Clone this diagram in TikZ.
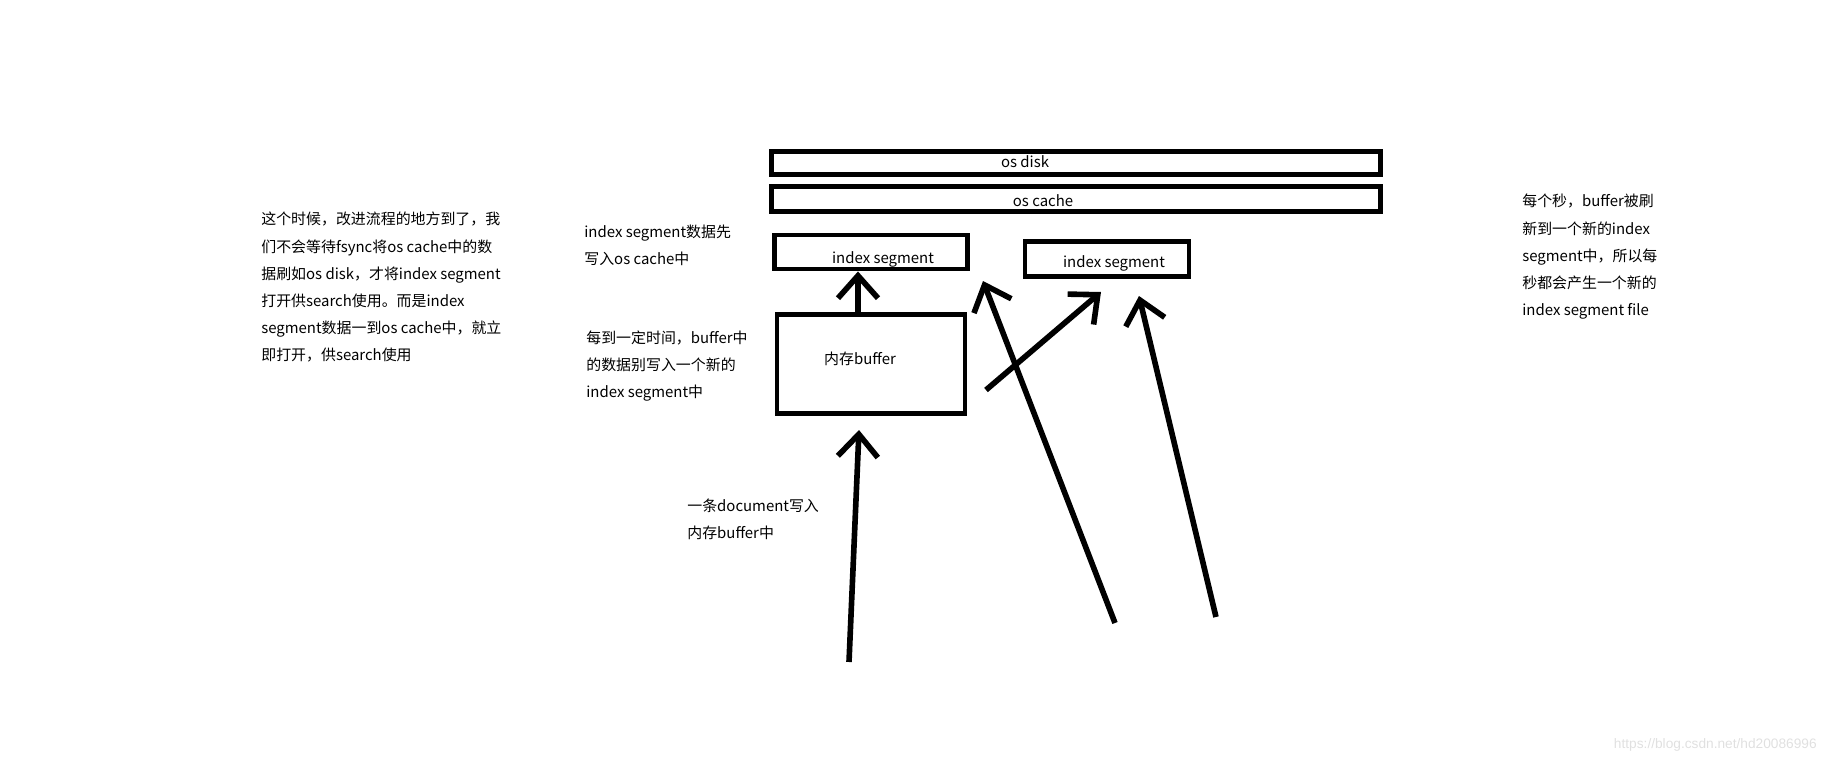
\documentclass[tikz,border=0pt]{standalone}
\usepackage{fontspec}
\setmainfont{Noto Sans CJK SC}
\newfontfamily\urlfont{Liberation Sans}
\usetikzlibrary{arrows.meta}
\definecolor{wmark}{RGB}{224,224,224}

\begin{document}
\begin{tikzpicture}[x=0.02cm, y=-0.02cm,
  box/.style={rectangle, draw, line width=2.8pt, inner sep=0pt},
  lbl/.style={inner sep=0pt, font=\fontsize{8.5}{15.4}\selectfont},
  note/.style={lbl, align=left, anchor=north west},
  arrow/.style={-{Straight Barb[length=0.45cm, width=0.8cm]}, line width=3.2pt}
]
  \useasboundingbox (0,0) rectangle (1827,764);

  \node[box, minimum width=12.18cm, minimum height=0.46cm] (disk) at (1076,163) {};
  \node[box, minimum width=12.2cm, minimum height=0.5cm] (cache) at (1076,199) {};
  \node[box, minimum width=3.86cm, minimum height=0.68cm] (idx1) at (871,252) {};
  \node[box, minimum width=3.28cm, minimum height=0.7cm] (idx2) at (1107,259) {};
  \node[box, minimum width=3.76cm, minimum height=1.98cm] (buf) at (871,364) {};

  \node[lbl] (disklbl) at (1025,162) {os disk};
  \node[lbl] (cachelbl) at (1043,201) {os cache};
  \node[lbl] (idx1lbl) at (883,259) {index segment};
  \node[lbl] (idx2lbl) at (1114,263) {index segment};
  \node[lbl] (buflbl) at (860,359) {内存buffer};

  \node[note] (why) at (261,212) {这个时候，改进流程的地方到了，我\\们不会等待fsync将os cache中的数\\据刷如os disk，才将index segment\\打开供search使用。而是index\\segment数据一到os cache中，就立\\即打开，供search使用};
  \node[note] (first) at (584,225) {index segment数据先\\写入os cache中};
  \node[note] (timed) at (586,330) {每到一定时间，buffer中\\的数据别写入一个新的\\index segment中};
  \node[note] (docin) at (687,499) {一条document写入\\内存buffer中};
  \node[note] (persec) at (1522,194) {每个秒，buffer被刷\\新到一个新的index\\segment中，所以每\\秒都会产生一个新的\\index segment file};
  \node[inner sep=0pt, anchor=east, text=wmark, font=\urlfont\fontsize{7.8}{9}\selectfont] (url) at (1817,745) {https://blog.csdn.net/hd20086996};

  \coordinate (a1) at (858,0);
  \coordinate (s2) at (986,390);
  \coordinate (t2) at (1101,292);
  \coordinate (s3) at (1115,623);
  \coordinate (t3) at (983,281);
  \coordinate (s4) at (1216,617);
  \coordinate (t4) at (1139,296);
  \coordinate (s5) at (849,662);
  \coordinate (t5) at (859,430);

  \draw[arrow] (buf.north -| a1) -- (idx1.south -| a1);
  \draw[arrow] (s2) -- (t2);
  \draw[arrow] (s3) -- (t3);
  \draw[arrow] (s4) -- (t4);
  \draw[arrow] (s5) -- (t5);
\end{tikzpicture}
\end{document}
